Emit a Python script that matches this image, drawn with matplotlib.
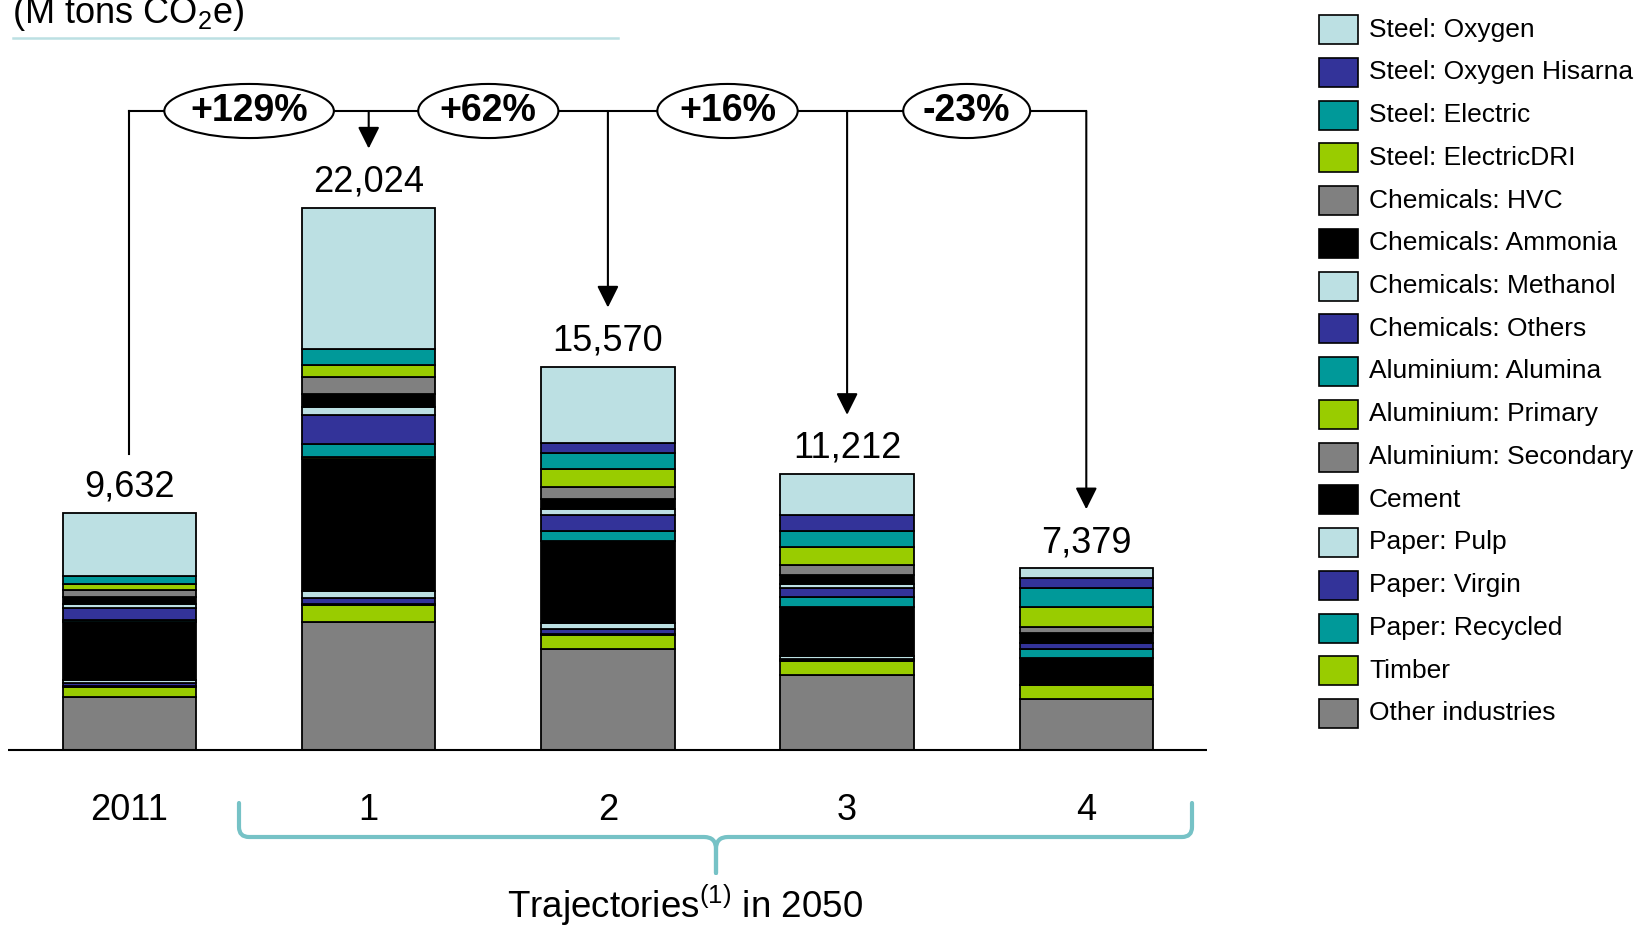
import numpy as np
import matplotlib
matplotlib.use("Agg")
import matplotlib.pyplot as plt
from matplotlib.patches import Rectangle, PathPatch
from matplotlib.path import Path
from matplotlib.lines import Line2D
from matplotlib.transforms import Affine2D

plt.rcParams['font.family'] = ['Liberation Sans', 'DejaVu Sans']
plt.rcParams['mathtext.fontset'] = 'custom'
plt.rcParams['mathtext.rm'] = 'Liberation Sans'
plt.rcParams['mathtext.it'] = 'Liberation Sans:italic'

# emissions per sector, M tons CO2e (stacking order, bottom -> top)
categories = ["2011", "1", "2", "3", "4"]
sectors = ["Other industries", "Timber", "Paper: Recycled", "Paper: Virgin", "Paper: Pulp",
           "Cement", "Aluminium: Secondary", "Aluminium: Primary", "Aluminium: Alumina",
           "Chemicals: Others", "Chemicals: Methanol", "Chemicals: Ammonia", "Chemicals: HVC",
           "Steel: ElectricDRI", "Steel: Electric", "Steel: Oxygen Hisarna", "Steel: Oxygen"]
other_industries = [2151, 5211, 4113, 3035, 2067]
timber = [419, 677, 555, 571, 585]
paper_recycled = [40, 40, 30, 50, 0]
paper_virgin = [120, 250, 200, 50, 0]
paper_pulp = [100, 270, 257, 100, 0]
cement = [2354, 5384, 3342, 2013, 1074]
alu_secondary = [0, 0, 0, 0, 0]
alu_primary = [0, 74, 0, 0, 0]
alu_alumina = [81, 500, 392, 381, 394]
chem_others = [500, 1207, 663, 394, 218]
chem_methanol = [149, 309, 216, 150, 0]
chem_ammonia = [284, 515, 433, 381, 394]
chem_hvc = [284, 707, 474, 367, 272]
steel_dri = [257, 486, 744, 734, 816]
steel_electric = [325, 662, 636, 653, 748]
steel_hisarna = [0, 0, 406, 653, 408]
steel_oxygen = [2568, 5732, 3109, 1680, 403]

values = [other_industries, timber, paper_recycled, paper_virgin, paper_pulp, cement,
          alu_secondary, alu_primary, alu_alumina, chem_others, chem_methanol, chem_ammonia,
          chem_hvc, steel_dri, steel_electric, steel_hisarna, steel_oxygen]

LIGHTBLUE, BLUE, TEAL, GREEN, GREY, BLACK = "#BCE0E3", "#333399", "#009999", "#99CC00", "#808080", "#000000"
palette = [GREY, GREEN, TEAL, BLUE, LIGHTBLUE, BLACK]
colors = [palette[i % 6] for i in range(len(sectors))]

W, H = 1637, 925
fig = plt.figure(figsize=(W / 100, H / 100), dpi=100)
# helper transform: pixel coords measured from the top-left corner
px = Affine2D().scale(1 / W, -1 / H).translate(0, 1) + fig.transFigure

base_px = 750
ypp = 40.6  # units per pixel
x0_px, dx_px = 129.5, 239.2
ax = fig.add_axes([8.4 / W, 0, (1207 - 8.4) / W, 1])
ax.set_xlim((8.4 - x0_px) / dx_px, (1207 - x0_px) / dx_px)
ax.set_ylim(-(H - base_px) * ypp, base_px * ypp)
ax.axis("off")

x = np.arange(len(categories))
bottom = np.zeros(len(categories))
for name, vals, c in zip(sectors, values, colors):
    ax.bar(x, vals, 0.557, bottom=bottom, color=c, edgecolor="black", linewidth=1.3, label=name, zorder=2)
    bottom += np.array(vals)
totals = bottom

ax.axhline(0, color="black", lw=1.5, zorder=3)

# total labels and category labels
for xi, t, cat in zip(x, totals, categories):
    ax.text(xi, t + 25.5 * ypp, f"{int(t):,}", ha="center", va="center", fontsize=26)
    ax.text(xi, -61 * ypp, cat, ha="center", va="center", fontsize=26)

# growth connector
line_y = (base_px - 111) * ypp
ax.plot([0, 4], [line_y, line_y], color="black", lw=1.5, zorder=3)
ax.plot([0, 0], [line_y, totals[0] + 59 * ypp], color="black", lw=1.5, zorder=3)
for xi, t in zip(x[1:], totals[1:]):
    ax.annotate("", xy=(xi, t + 59 * ypp), xytext=(xi, line_y),
                arrowprops=dict(arrowstyle="-|>,head_length=0.6,head_width=0.3", color="black",
                                lw=1.5, shrinkA=0, shrinkB=0, mutation_scale=22), zorder=3)
for i in range(1, len(totals)):
    pct = round((totals[i] / totals[0] - 1) * 100)
    ax.text(i - 0.5, line_y, f"{pct:+d}%", ha="center", va="center", fontsize=27, fontweight="bold",
            bbox=dict(boxstyle="ellipse,pad=0.03", fc="white", ec="black", lw=1.5), zorder=4)

# unit title with underline
fig.text(12.5 / W, 1 - 23 / H, r"(M tons CO$_\mathrm{2}$e)", fontsize=26, va="baseline", ha="left")
fig.add_artist(Line2D([12.5, 618], [37.6, 37.6], transform=px, color="#BCE0E3", lw=1.8))

# brace under the trajectories
brace_c = "#76C2C6"
for xe, sgn in [(239, 1), (1192, -1)]:
    verts = [(xe, 803), (xe, 827), (xe, 837), (xe + 10 * sgn, 837),
             (716 - 12 * sgn, 837), (716, 837), (716, 849), (716, 873)]
    codes = [Path.MOVETO, Path.LINETO, Path.CURVE3, Path.CURVE3,
             Path.LINETO, Path.CURVE3, Path.CURVE3, Path.LINETO]
    fig.add_artist(PathPatch(Path(verts, codes), transform=px, fill=False, ec=brace_c,
                             lw=3, capstyle="round", joinstyle="round"))
fig.text(685 / W, 1 - 905 / H, r"Trajectories$^{\mathrm{(1)}}$ in 2050", fontsize=26.5,
         ha="center", va="center")

# legend, top entry = top of stack
for k, (name, c) in enumerate(zip(sectors[::-1], colors[::-1])):
    yc = 29.5 + 42.75 * k
    fig.add_artist(Rectangle((1319, yc - 14.5), 39, 29, transform=px, fc=c, ec="black", lw=1.2))
    fig.text(1369 / W, 1 - yc / H, name, fontsize=19, ha="left", va="center")

fig.savefig("out.png", dpi=100)
